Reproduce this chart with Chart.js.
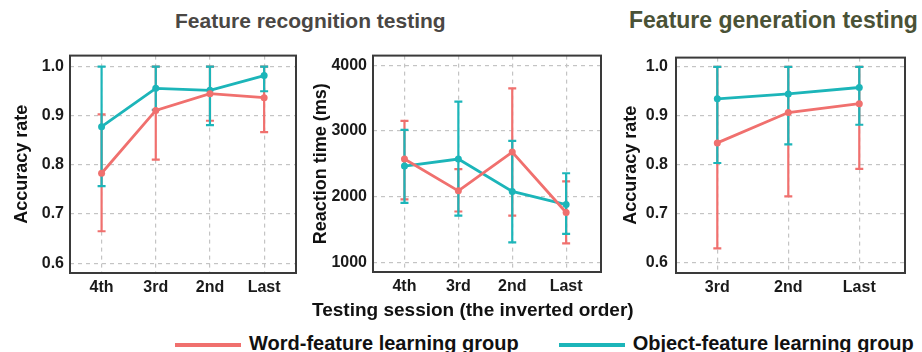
<!DOCTYPE html>
<html>
<head>
<meta charset="utf-8">
<script src="https://cdn.jsdelivr.net/npm/chart.js@4/dist/chart.umd.min.js"></script>
<style>
  body { margin: 0; background: #fff; }
  #wrap { position: relative; width: 922px; height: 352px; overflow: hidden; background: #fff;
          font-family: "Liberation Sans", Arial, sans-serif; font-weight: bold; }
  #wrap canvas { position: absolute; }
  .txt { position: absolute; white-space: nowrap; }
  .key { display: inline-block; width: 66px; height: 4px; vertical-align: middle; margin-right: 8px; }
</style>
</head>
<body>
<div id="wrap">
  <div class="txt" id="t1" style="left:175px; top:9px; font-size:21px; color:#4a4744;">Feature recognition testing</div>
  <div class="txt" id="t2" style="left:629px; top:7px; font-size:23px; color:#4a5236;">Feature generation testing</div>
  <canvas id="c1" width="300" height="260" style="left:0; top:40px;"></canvas>
  <canvas id="c2" width="305" height="260" style="left:300px; top:40px;"></canvas>
  <canvas id="c3" width="322" height="260" style="left:600px; top:40px;"></canvas>
  <div class="txt" id="xt" style="left:312px; top:299px; font-size:19px; color:#111;">Testing session (the inverted order)</div>
  <div class="txt" id="lg" style="left:175px; top:332px; font-size:20px; color:#111;"></div>
</div>
<script>
// 横轴
var recogLabels = ['4th', '3rd', '2nd', 'Last'];
var genLabels = ['3rd', '2nd', 'Last'];

// feature recognition - accuracy
var accWordMean = [0.783, 0.911, 0.945, 0.937];
var accWordLow  = [0.665, 0.811, 0.890, 0.867];
var accWordHigh = [0.903, 1.000, 1.000, 1.000];
var accObjMean  = [0.878, 0.956, 0.952, 0.982];
var accObjLow   = [0.757, 0.912, 0.881, 0.950];
var accObjHigh  = [1.000, 1.000, 1.000, 1.000];

// feature recognition - reaction time
var rtWordMean = [2573, 2089, 2679, 1760];
var rtWordLow  = [1960, 1775, 1711, 1290];
var rtWordHigh = [3154, 2418, 3647, 2234];
var rtObjMean  = [2466, 2573, 2080, 1881];
var rtObjLow   = [1906, 1711, 1305, 1436];
var rtObjHigh  = [3017, 3444, 2849, 2356];

// feature generation - accuracy
var genWordMean = [0.845, 0.907, 0.925];
var genWordLow  = [0.630, 0.736, 0.792];
var genWordHigh = [1.000, 1.000, 1.000];
var genObjMean  = [0.935, 0.945, 0.958];
var genObjLow   = [0.804, 0.842, 0.882];
var genObjHigh  = [1.000, 1.000, 1.000];

var accTicks = [0.6, 0.7, 0.8, 0.9, 1.0];
var rtTicks = [1000, 2000, 3000, 4000];

var groupNames = ['Word-feature learning group', 'Object-feature learning group'];
var groupColors = ['#F0706E', '#1CB5B9'];

//error bars + plot box
var errorBarPlugin = {
	id: 'errorBars',
	beforeDatasetsDraw: function(chart) {
		var ctx = chart.ctx, xs = chart.scales.x, ys = chart.scales.y;
		chart.data.datasets.forEach(function(ds) {
			ctx.save();
			ctx.strokeStyle = ds.borderColor;
			ctx.lineWidth = 2.2;
			ds.data.forEach(function(pt, i) {
				var x = xs.getPixelForValue(pt.x);
				var y1 = ys.getPixelForValue(ds.errLow[i]);
				var y2 = ys.getPixelForValue(ds.errHigh[i]);
				ctx.beginPath();
				ctx.moveTo(x, y1); ctx.lineTo(x, y2);
				ctx.moveTo(x - 4, y1); ctx.lineTo(x + 4, y1);
				ctx.moveTo(x - 4, y2); ctx.lineTo(x + 4, y2);
				ctx.stroke();
			});
			ctx.restore();
		});
	},
	afterDraw: function(chart) {
		var a = chart.chartArea, ctx = chart.ctx;
		ctx.save();
		ctx.strokeStyle = '#3a3a3a';
		ctx.lineWidth = 2;
		ctx.strokeRect(a.left, a.top, a.right - a.left, a.bottom - a.top);
		ctx.restore();
	}
};

function toPoints(vals) {
	return vals.map(function(v, i) { return {x: i, y: v}; });
}

function makePanel(id, labels, groups, p) {
	var datasets = groups.map(function(g, k) {
		return {
			label: groupNames[k],
			data: toPoints(g.mean),
			errLow: g.low,
			errHigh: g.high,
			borderColor: groupColors[k],
			backgroundColor: groupColors[k],
			borderWidth: 2.8,
			pointRadius: 3.5,
			pointBorderWidth: 0,
			tension: 0
		};
	});
	var tickFont = {family: '"Liberation Sans", Arial, sans-serif', size: 16, weight: 'bold'};
	var gridOpt = {color: '#c4c4c4', lineWidth: 1.2, drawTicks: false};
	return new Chart(document.getElementById(id).getContext('2d'), {
		type: 'line',
		data: {datasets: datasets},
		options: {
			responsive: false,
			animation: false,
			layout: {padding: {left: 0, top: p.padTop, right: p.padRight, bottom: 0}},
			plugins: {legend: {display: false}, tooltip: {enabled: false}},
			scales: {
				x: {
					type: 'linear',
					min: p.xMin, max: p.xMax,
					grid: gridOpt,
					border: {display: false, dash: [4, 4]},
					ticks: {
						font: tickFont, color: '#1a1a1a', padding: p.xPad, maxRotation: 0,
						callback: function(v) { return labels[v]; }
					},
					afterBuildTicks: function(s) {
						s.ticks = labels.map(function(l, i) { return {value: i}; });
					},
					afterFit: function(s) { s.height = p.xHeight; }
				},
				y: {
					min: p.yMin, max: p.yMax,
					grid: gridOpt,
					border: {display: false, dash: [4, 4]},
					title: {
						display: true, text: p.yTitle, color: '#111',
						font: {family: '"Liberation Sans", Arial, sans-serif', size: 18, weight: 'bold'},
						padding: {top: p.titlePad, bottom: 0}
					},
					ticks: {
						font: tickFont, color: '#1a1a1a', padding: p.yPad,
						callback: function(v) { return p.fmt(v); }
					},
					afterBuildTicks: function(s) {
						s.ticks = p.ticks.map(function(v) { return {value: v}; });
					},
					afterFit: function(s) { s.width = p.yWidth; }
				}
			}
		},
		plugins: [errorBarPlugin]
	});
}

var fmtAcc = function(v) { return v.toFixed(1); };
var fmtRt = function(v) { return String(v); };

makePanel('c1', recogLabels, [
	{mean: accWordMean, low: accWordLow, high: accWordHigh},
	{mean: accObjMean, low: accObjLow, high: accObjHigh}
], {padTop: 4, padRight: 3, xHeight: 27, yWidth: 70, xPad: 5, yPad: 6, titlePad: 11,
	xMin: -0.583, xMax: 3.588, yMin: 0.580, yMax: 1.0226, ticks: accTicks, fmt: fmtAcc, yTitle: 'Accuracy rate'});

makePanel('c2', recogLabels, [
	{mean: rtWordMean, low: rtWordLow, high: rtWordHigh},
	{mean: rtObjMean, low: rtObjLow, high: rtObjHigh}
], {padTop: 5, padRight: 3, xHeight: 28, yWidth: 73, xPad: 5, yPad: 6, titlePad: 10,
	xMin: -0.584, xMax: 3.647, yMin: 855, yMax: 4145, ticks: rtTicks, fmt: fmtRt, yTitle: 'Reaction time (ms)'});

makePanel('c3', genLabels, [
	{mean: genWordMean, low: genWordLow, high: genWordHigh},
	{mean: genObjMean, low: genObjLow, high: genObjHigh}
], {padTop: 5, padRight: 17, xHeight: 27, yWidth: 76, xPad: 5, yPad: 8, titlePad: 20,
	xMin: -0.582, xMax: 2.644, yMin: 0.5796, yMax: 1.019, ticks: accTicks, fmt: fmtAcc, yTitle: 'Accuracy rate'});

// legend
var lg = document.getElementById('lg');
groupNames.forEach(function(name, k) {
	lg.innerHTML += '<span class="key" style="background:' + groupColors[k] + ';"></span>' + name +
		(k === 0 ? '<span style="display:inline-block;width:40px;"></span>' : '');
});
</script>
</body>
</html>
